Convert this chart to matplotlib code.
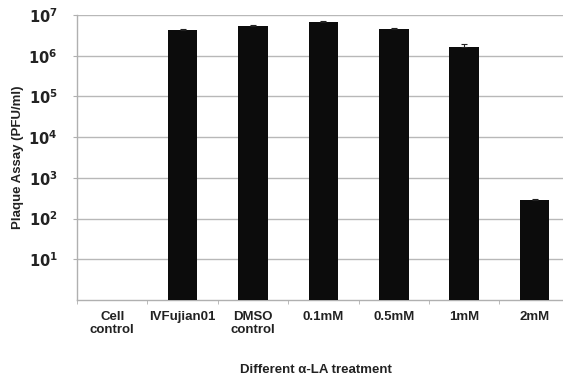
import numpy as np
import matplotlib.pyplot as plt
from matplotlib.ticker import FixedLocator, NullLocator

plt.rcParams['font.family'] = ['Liberation Sans', 'DejaVu Sans']

# plaque assay titres (PFU/ml) per treatment
categories = ["Cell\ncontrol", "IVFujian01", "DMSO\ncontrol", "0.1mM", "0.5mM", "1mM", "2mM"]
titres = [np.nan, 4.2e6, 5.4e6, 6.8e6, 4.6e6, 1.65e6, 280]
errors = [np.nan, 0.3e6, 0.4e6, 0.3e6, 0.2e6, 0.25e6, 30]
decades = [1e1, 1e2, 1e3, 1e4, 1e5, 1e6, 1e7]

fig = plt.figure(figsize=(5.63, 3.83), dpi=100)
ax = fig.add_axes([77 / 563, 1 - 300 / 383, 492.8 / 563, 285 / 383])

x = np.arange(len(categories))
ax.bar(x, titres, width=0.42, color="#0c0c0c", zorder=3)
ax.errorbar(x, titres, yerr=[np.zeros(len(x)), errors], fmt="none",
            ecolor="#222222", elinewidth=0.8, capsize=2, capthick=0.8, zorder=4)

ax.set_yscale("log")
ax.set_ylim(1, 1e7)
ax.set_xlim(-0.5, len(categories) - 0.5)

ax.yaxis.set_major_locator(FixedLocator(decades))
ax.yaxis.set_minor_locator(NullLocator())
ax.set_yticklabels([f"$\\mathbf{{10^{{{int(np.log10(d))}}}}}$" for d in decades])
ax.grid(axis="y", color="#b8b8b8", linewidth=1.0, zorder=0)
ax.tick_params(axis="y", length=3, color="#b0b0b0", pad=11, labelsize=10.5, labelcolor="#222222")

# category labels centred on bars, tick marks on category boundaries
ax.set_xticks(x)
ax.set_xticklabels(categories, fontweight="bold", fontsize=9.5, color="#222222", linespacing=1.1)
ax.tick_params(axis="x", which="major", length=0, pad=8)
ax.xaxis.set_minor_locator(FixedLocator(np.arange(-0.5, len(categories), 1.0)))
ax.tick_params(axis="x", which="minor", length=3, color="#b0b0b0")

for side in ["top", "right"]:
    ax.spines[side].set_visible(False)
for side in ["left", "bottom"]:
    ax.spines[side].set_color("#b0b0b0")
    ax.spines[side].set_linewidth(1.0)

fig.text(18 / 563, 1 - 157 / 383, "Plaque Assay (PFU/ml)", rotation=90, ha="center", va="center",
         fontweight="bold", fontsize=9.5, color="#222222")
fig.text(316 / 563, 1 - 370 / 383, "Different α-LA treatment", ha="center", va="center",
         fontweight="bold", fontsize=9.5, color="#222222")

fig.savefig("out.png", dpi=100)
